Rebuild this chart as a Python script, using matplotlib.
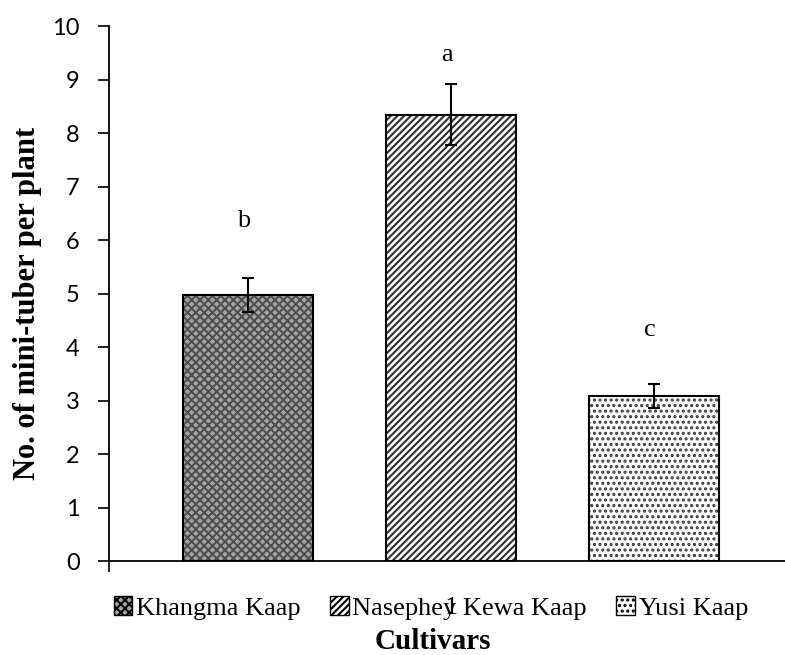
import matplotlib.pyplot as plt
from matplotlib.patches import Patch

cultivars = ["Khangma Kaap", "Nasephey Kewa Kaap", "Yusi Kaap"]
tubers = [4.97, 8.34, 3.08]
errors = [0.32, 0.57, 0.22]
letters = ["b", "a", "c"]
letter_y = [6.35, 9.45, 4.32]

# fill / hatch per cultivar
faces = ["#a6a6a6", "white", "white"]
hatch_colors = ["#505050", "#303030", "#3c3c3c"]
hatches = ["xxxx", "/////", "..."]

plt.rcParams["hatch.linewidth"] = 1.5

fig = plt.figure(figsize=(7.85, 6.55), dpi=100)
ax = fig.add_axes([0.1389, 0.1435, 0.8713, 0.8168])

x = [0, 1, 2]
width = 0.64

# hatched fills first, then black outlines on top
for i in range(3):
    ax.bar(x[i], tubers[i], width, color=faces[i], edgecolor=hatch_colors[i],
           hatch=hatches[i], linewidth=0, zorder=2)
ax.bar(x, tubers, width, fill=False, edgecolor="black", linewidth=1.5, zorder=3)

ax.errorbar(x, tubers, yerr=errors, fmt="none", ecolor="black",
            elinewidth=1.5, capsize=4, capthick=1.5, zorder=4)

for i in range(3):
    ax.text(x[i] - 0.02, letter_y[i], letters[i], ha="center", va="center",
            fontsize=19, family="Liberation Serif")

ax.set_xlim(-0.685, 2.685)
ax.set_ylim(0, 10)
ax.set_yticks(range(0, 11))
ax.tick_params(axis="y", labelsize=17, length=8, width=1.2, direction="out", pad=13)
for lab in ax.get_yticklabels():
    lab.set_family("Lato")

ax.set_xticks([-0.685], [""])
ax.tick_params(axis="x", length=8, width=1.2)
ax.text(1, -0.87, "1", ha="center", va="center", fontsize=19,
        family="Liberation Serif")

for s in ["top", "right"]:
    ax.spines[s].set_visible(False)
ax.spines["left"].set_linewidth(1.3)
ax.spines["bottom"].set_linewidth(1.3)

fig.text(0.035, 0.537, "No. of mini-tuber per plant", rotation=90,
         ha="center", va="center", fontsize=22, fontweight="bold",
         family="Liberation Serif")
fig.text(0.552, 0.02, "Cultivars", ha="center", va="center", fontsize=21,
         fontweight="bold", family="Liberation Serif")

handles = [Patch(facecolor=faces[i], edgecolor="black", hatch=hatches[i],
                 linewidth=1.0, label=cultivars[i]) for i in range(3)]
fig.legend(handles=handles, loc="center", bbox_to_anchor=(0.549, 0.072),
           ncol=3, frameon=False, handlelength=0.7, handleheight=0.7,
           handletextpad=0.15, columnspacing=1.1,
           prop={"family": "Liberation Serif", "size": 19})

fig.savefig("out.png", dpi=100)
